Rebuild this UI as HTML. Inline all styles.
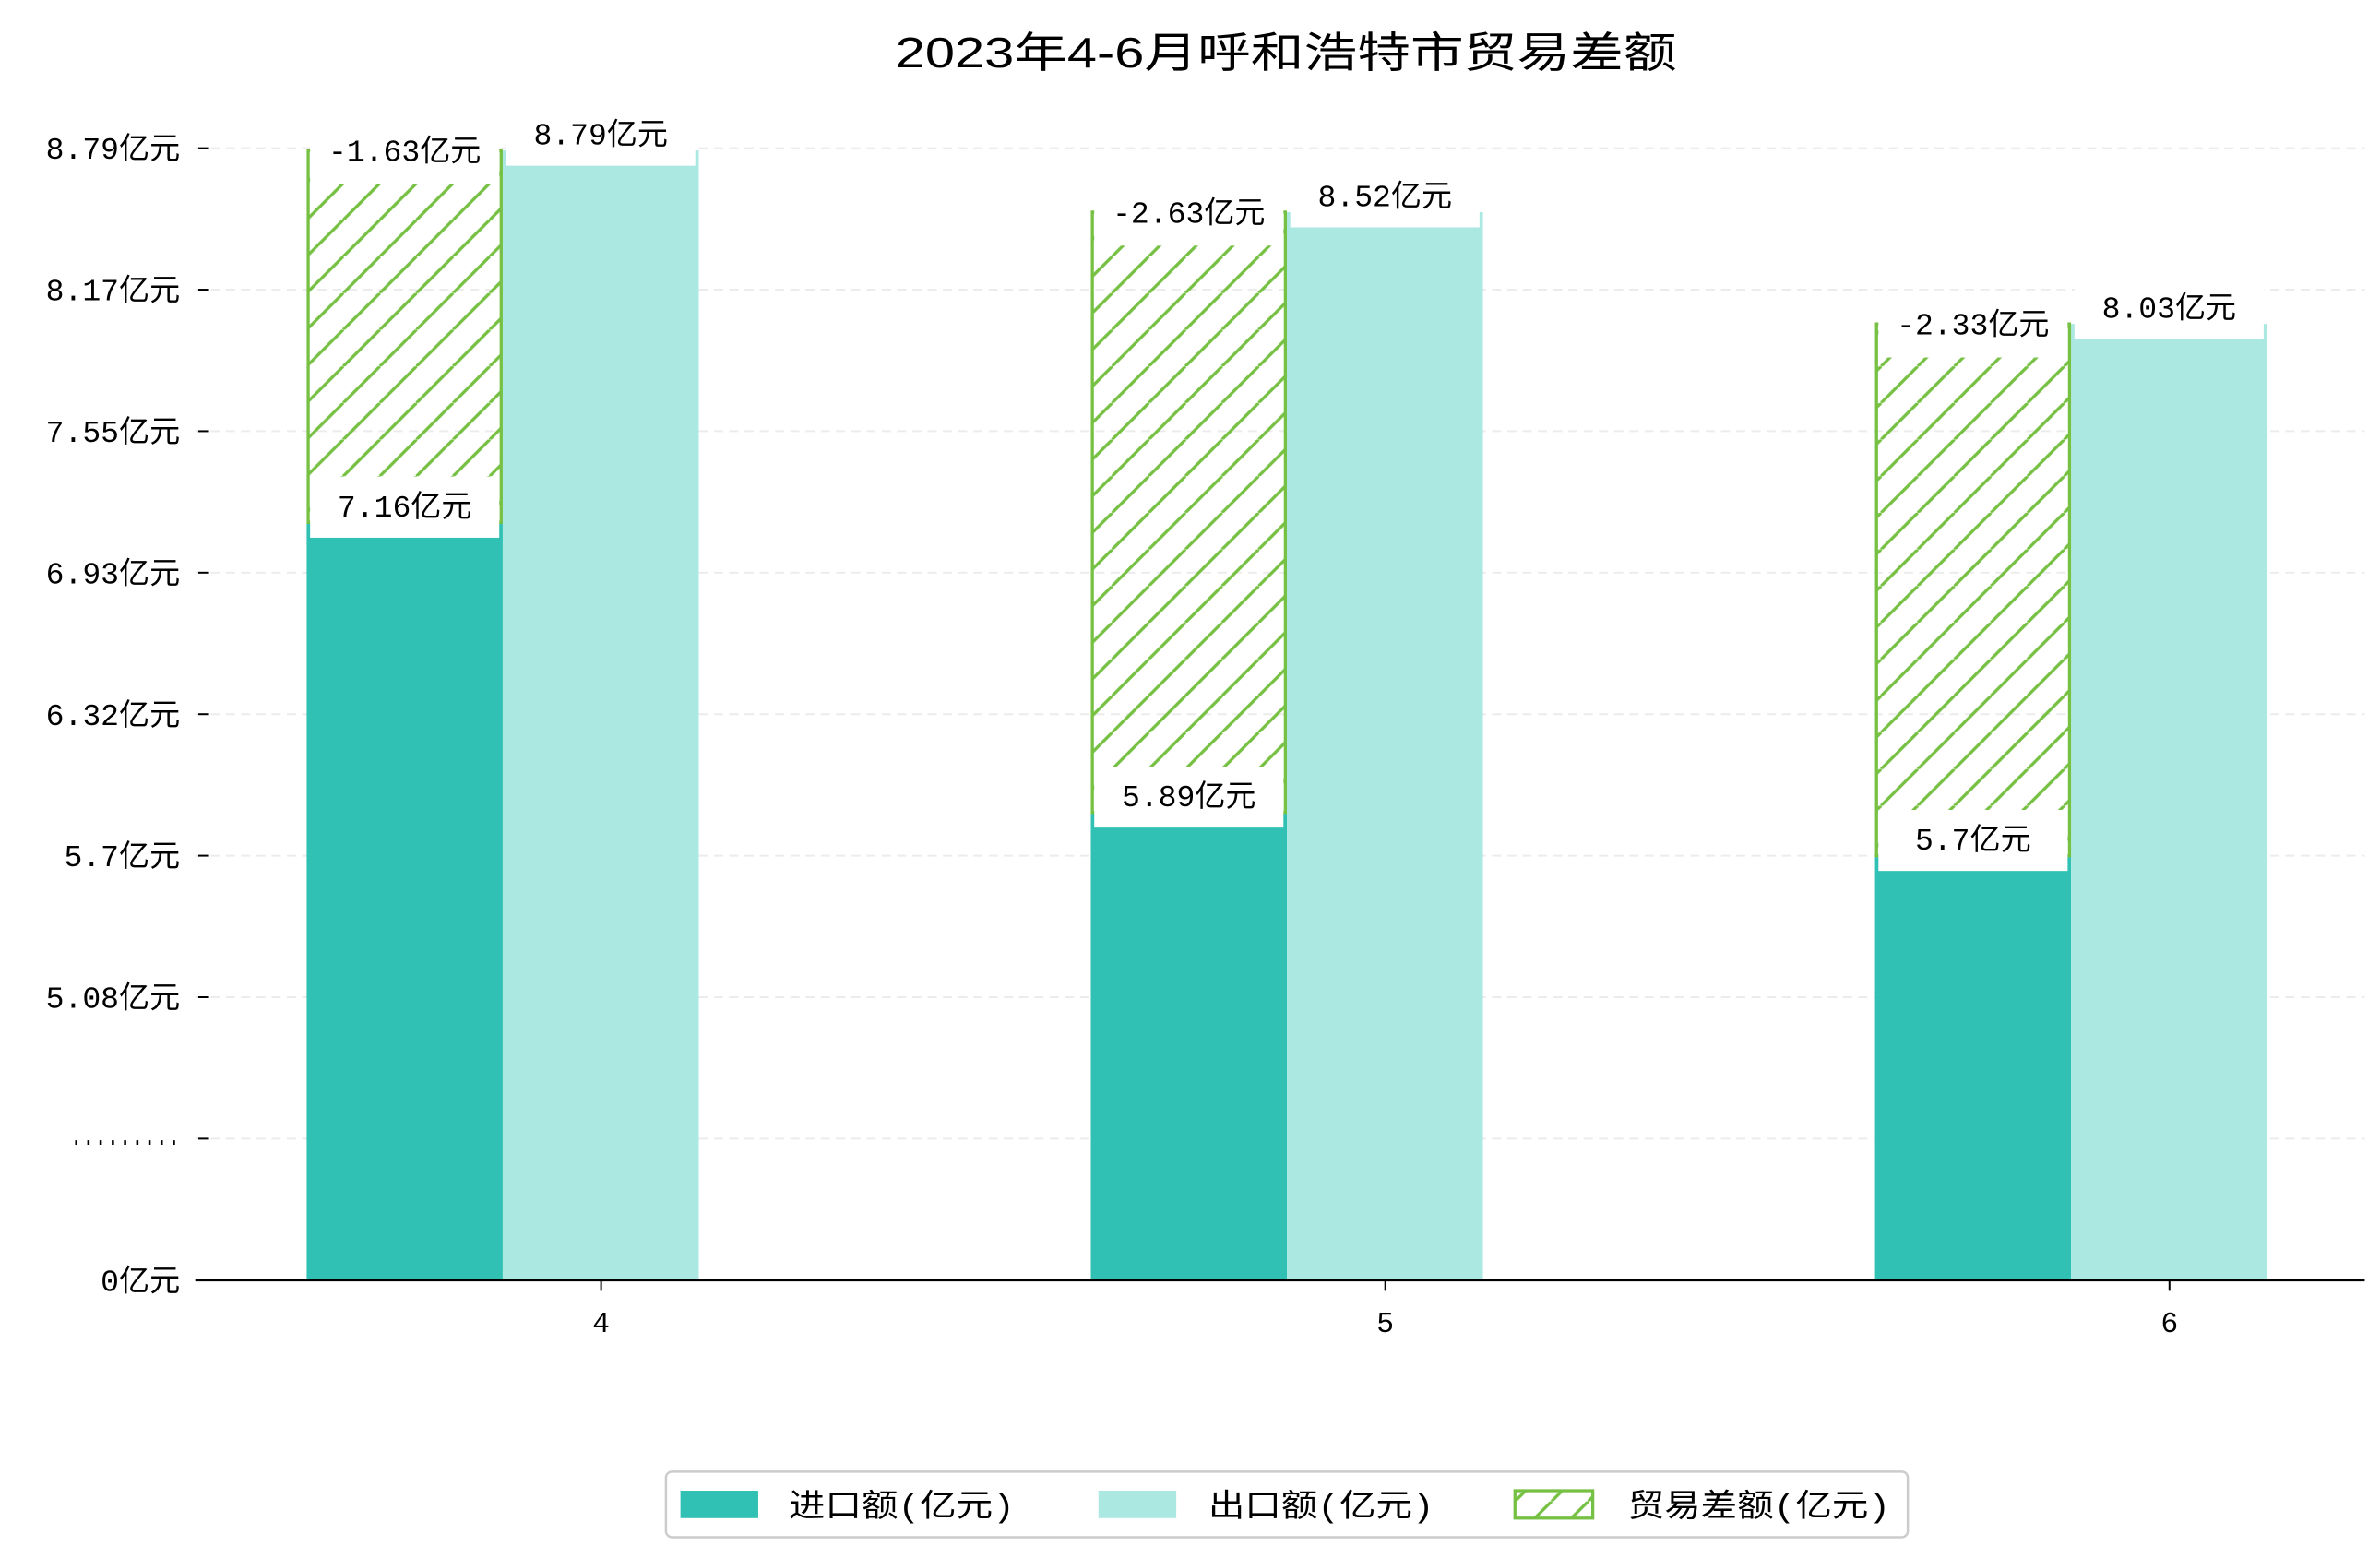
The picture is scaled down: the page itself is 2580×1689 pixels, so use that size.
<!DOCTYPE html>
<html><head><meta charset="utf-8">
<style>
html,body{margin:0;padding:0;background:#fff;}
svg{display:block;}
text{font-family:"Liberation Mono","Noto Sans CJK SC",monospace;fill:#000;}
</style></head>
<body>
<svg id="chart" width="2580" height="1689" viewBox="0 0 1560 1021" xmlns="http://www.w3.org/2000/svg">
<defs>
<pattern id="hatch" patternUnits="userSpaceOnUse" width="24" height="24" patternTransform="translate(201,0)">
<line x1="0" y1="24" x2="24" y2="0" stroke="#76c043" stroke-width="2"/>
<line x1="-24" y1="24" x2="0" y2="0" stroke="#76c043" stroke-width="2"/>
<line x1="24" y1="24" x2="48" y2="0" stroke="#76c043" stroke-width="2"/>
</pattern>
</defs>
<text x="843" y="44" font-size="28" text-anchor="middle" textLength="512" lengthAdjust="spacingAndGlyphs" style="font-family:'Liberation Sans','Noto Sans CJK SC',sans-serif">2023年4-6月呼和浩特市贸易差额</text>
<g id="grid"></g>
<g id="bars"></g>
<g id="labels"></g>
<g id="axes"></g>
<g>
<rect x="436.5" y="964.5" width="814" height="43" rx="4" fill="#fff" stroke="#ccc" stroke-width="1.5"/>
<rect x="446" y="977" width="51" height="18" fill="#31c1b4"/>
<text x="517" y="994" font-size="21" textLength="148" lengthAdjust="spacingAndGlyphs">进口额(亿元)</text>
<rect x="720" y="977" width="51" height="18" fill="#abe8e2"/>
<text x="792" y="994" font-size="21" textLength="148" lengthAdjust="spacingAndGlyphs">出口额(亿元)</text>
<rect x="993" y="977" width="51" height="18" fill="url(#hatch)" stroke="#76c043" stroke-width="2"/>
<text x="1067" y="994" font-size="21" textLength="172" lengthAdjust="spacingAndGlyphs">贸易差额(亿元)</text>
</g>
</svg>
<script>
const months = ["4", "5", "6"];
const imports = [7.16, 5.89, 5.7];
const exports_ = [8.79, 8.52, 8.03];
const balance = [-1.63, -2.63, -2.33];
const tickLabels = ["0亿元", ".........", "5.08亿元", "5.7亿元", "6.32亿元", "6.93亿元", "7.55亿元", "8.17亿元", "8.79亿元"];

const NS = "http://www.w3.org/2000/svg";
const X0 = 394, XSTEP = 514, BW = 128.5, OFF = 193;
const Y0 = 839, YSTEP = 92.75, LEFT = 128, RIGHT = 1550;
function xScale(i){ return X0 + XSTEP * i; }
function yScale(v){
  if (v <= 0) return Y0;
  if (v >= 5.08) return (Y0 - 2 * YSTEP) - (v - 5.08) / 0.62 * YSTEP;
  return Y0 - (v / 5.08) * 2 * YSTEP;
}
function tickY(k){ return Y0 - YSTEP * k; }
function mk(tag, attrs, parent){
  const e = document.createElementNS(NS, tag);
  for (const k in attrs) e.setAttribute(k, attrs[k]);
  parent.appendChild(e);
  return e;
}
const grid = document.getElementById('grid');
const bars = document.getElementById('bars');
const labels = document.getElementById('labels');
const axes = document.getElementById('axes');

tickLabels.forEach((t, k) => {
  const y = tickY(k);
  if (k > 0) {
    const g = mk('line', {x1: LEFT, x2: RIGHT, y1: y, y2: y, stroke: '#ececec', 'stroke-width': 1.2, 'stroke-dasharray': '6,4'}, grid);
    
    
    const tk = mk('line', {x1: 130, x2: 137, y1: y, y2: y, stroke: '#000', 'stroke-width': 1.2}, axes);
    
    
  }
  const attrs = {x: 118, y: y + 7, 'font-size': 20, 'text-anchor': 'end'};
  if (t.indexOf('亿') < 0) { attrs.textLength = 72; attrs.lengthAdjust = 'spacingAndGlyphs'; attrs.y = y + 4; }
  const tx = mk('text', attrs, axes);
  tx.textContent = t;
  
  
});

function labelBox(cx, cy, h1, h2, txt, name){
  const r = mk('rect', {x: cx - 62, y: cy - h1, width: 124, height: h1 + h2, fill: '#fff'}, labels);
  
  
  const t = mk('text', {x: cx, y: cy + 7, 'font-size': 20, 'text-anchor': 'middle'}, labels);
  t.textContent = txt;
  
  
}

months.forEach((m, i) => {
  const cx = xScale(i);
  const xi = cx - OFF, xe = xi + BW;
  const yi = yScale(imports[i]), ye = yScale(exports_[i]);
  const b1 = mk('rect', {x: xi, y: yi, width: BW, height: Y0 - yi, fill: '#31c1b4'}, bars);
  
  
  const b2 = mk('rect', {x: xe, y: ye, width: BW, height: Y0 - ye, fill: '#abe8e2'}, bars);
  
  
  const yb = yScale(imports[i] - balance[i]);
  const b3 = mk('rect', {x: xi + 1, y: yb, width: BW - 2, height: yi - yb, fill: 'url(#hatch)', stroke: '#76c043', 'stroke-width': 2}, bars);
  
  

  labelBox(xi + BW / 2, yb, 22, 22, balance[i] + '亿元', 'balance-label-' + m);
  labelBox(xe + BW / 2, ye - 11, 21, 21, exports_[i] + '亿元', 'export-label-' + m);
  labelBox(xi + BW / 2, yi - 11, 19, 21, imports[i] + '亿元', 'import-label-' + m);

  const xt = mk('line', {x1: cx, x2: cx, y1: Y0, y2: Y0 + 7, stroke: '#000', 'stroke-width': 1.2}, axes);
  
  
  const xl = mk('text', {x: cx, y: 873, 'font-size': 19, 'text-anchor': 'middle'}, axes);
  xl.textContent = m;
  
  
});
const ax = mk('line', {x1: LEFT, x2: RIGHT, y1: Y0, y2: Y0, stroke: '#000', 'stroke-width': 1.6}, axes);


</script>
</body></html>
